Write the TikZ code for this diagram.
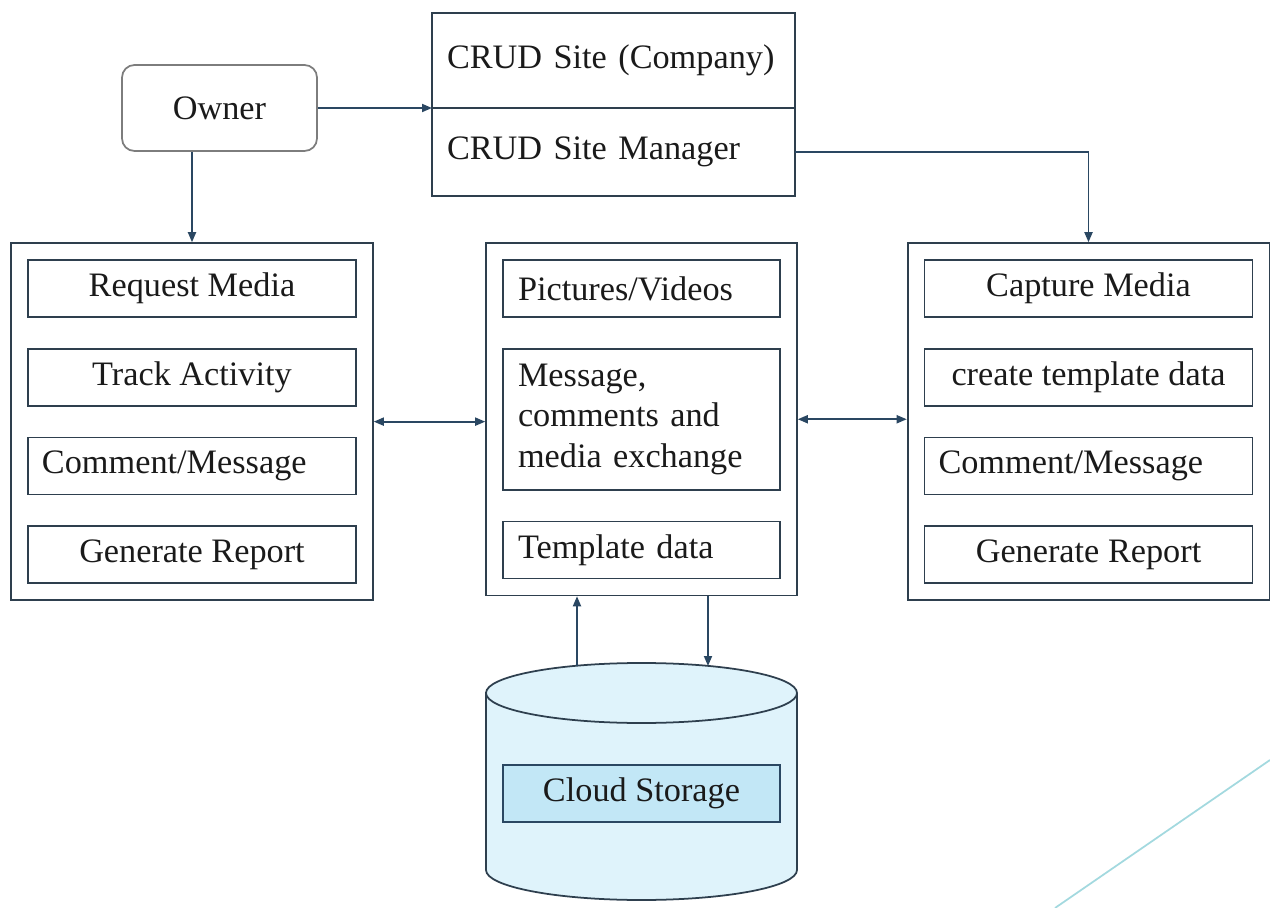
\documentclass[tikz,border=0pt]{standalone}
\usepackage{fontspec}
\setmainfont{Liberation Serif}
\usepackage{tikz}
\usetikzlibrary{arrows.meta,calc,fit,positioning}
\definecolor{CrudInk}{HTML}{2E3F4E}
\definecolor{CrudArrow}{HTML}{2A4762}
\definecolor{CrudGrey}{HTML}{7D7D7D}
\definecolor{CrudSky}{HTML}{DFF3FB}
\definecolor{CrudSkyDark}{HTML}{C2E7F6}
\definecolor{CrudTeal}{HTML}{A3D9DF}
\definecolor{CrudText}{HTML}{1A1A1A}
\newcommand{\crudfont}{\fontsize{19.5}{23}\selectfont}
\tikzset{
  >={Triangle[length=2mm,width=1.6mm]},
  flow/.style={->,line width=1pt,draw=CrudArrow},
  twoflow/.style={<->,line width=1pt,draw=CrudArrow},
  sidebox/.style={draw=CrudInk,line width=1pt,minimum width=65.6mm,
    minimum height=11.4mm,inner sep=0pt,text=CrudText,font=\crudfont},
  lefttext/.style={text width=60mm,align=left,inner xsep=2.8mm},
  midbox/.style={draw=CrudInk,line width=1pt,text width=49.4mm,align=left,
    minimum height=11.4mm,inner xsep=3mm,inner ysep=0pt,text=CrudText,font=\crudfont},
  outerbox/.style={draw=CrudInk,line width=1pt,inner sep=3.2mm},
  ownerbox/.style={draw=CrudGrey,line width=1pt,rounded corners=2.5mm,
    minimum width=39mm,minimum height=17.2mm,text=CrudText,font=\crudfont},
  crudbox/.style={draw=CrudInk,line width=1pt,text width=66.6mm,align=left,
    inner xsep=3mm,inner ysep=0pt,outer sep=0pt,text=CrudText,font=\crudfont},
  storebox/.style={draw=CrudArrow,line width=1pt,fill=CrudSkyDark,
    minimum width=55.4mm,minimum height=11.4mm,text=CrudText,font=\crudfont}
}
\begin{document}
\begin{tikzpicture}[x=0.2mm,y=-0.2mm,node distance=6mm]
  \useasboundingbox (0,0) rectangle (1270,908);
  % owner and CRUD site
  \node[ownerbox] (owner) at (219.5,108) {Owner};
  \node[crudbox,minimum height=19mm] (crud) at (613.5,60.5) {CRUD Site (Company)};
  \node[crudbox,minimum height=17.6mm,below=0pt of crud] (manager) {CRUD Site Manager};
  % owner side
  \node[sidebox] (request) at (192,288.5) {Request Media};
  \node[sidebox,below=of request] (track) {Track Activity};
  \node[sidebox,lefttext,below=of track] (ownercomment) {Comment/Message};
  \node[sidebox,below=of ownercomment] (ownerreport) {Generate Report};
  \node[outerbox,fit=(request)(ownerreport)] (ownerside) {};
  % exchange hub
  \node[midbox] (media) at (641.5,288.5) {Pictures/Videos};
  \node[midbox,minimum height=28.2mm,below=of media] (exchange) {Message,\\comments and\\media exchange};
  \node[midbox,below=of exchange] (template) {Template data};
  \node[outerbox,fit=(media)(template)] (hub) {};
  % manager side
  \node[sidebox] (capture) at (1088.5,288.5) {Capture Media};
  \node[sidebox,below=of capture] (create) {create template data};
  \node[sidebox,lefttext,below=of create] (managercomment) {Comment/Message};
  \node[sidebox,below=of managercomment] (managerreport) {Generate Report};
  \node[outerbox,fit=(capture)(managerreport)] (managerside) {};
  % cloud storage
  \path[draw=CrudInk,fill=CrudSky,line width=1pt] (486,693) -- (486,870)
    arc[start angle=180,end angle=0,x radius=155.5,y radius=30] -- (797,693)
    arc[start angle=0,end angle=-180,x radius=155.5,y radius=30] -- cycle;
  \draw[CrudInk,line width=1pt] (486,693) arc[start angle=180,end angle=0,x radius=155.5,y radius=30];
  \node[storebox] (storage) at (641.5,793.5) {Cloud Storage};
  \coordinate (upload) at (577,666);
  \coordinate (download) at (708,666);
  % connectors
  \draw[flow] (owner.east) -- (owner.east -| crud.west);
  \draw[flow] (owner.south -| ownerside.north) -- (ownerside.north);
  \draw[flow] (manager.east) -| (managerside.north);
  \draw[twoflow] (ownerside.east) -- (ownerside.east -| hub.west);
  \draw[twoflow] (hub.east) -- (hub.east -| managerside.west);
  \draw[flow] (upload) -- (upload |- hub.south);
  \draw[flow] (download |- hub.south) -- (download);
  \draw[CrudTeal,line width=1pt] (1055,908) -- (1270,760);
\end{tikzpicture}
\end{document}
